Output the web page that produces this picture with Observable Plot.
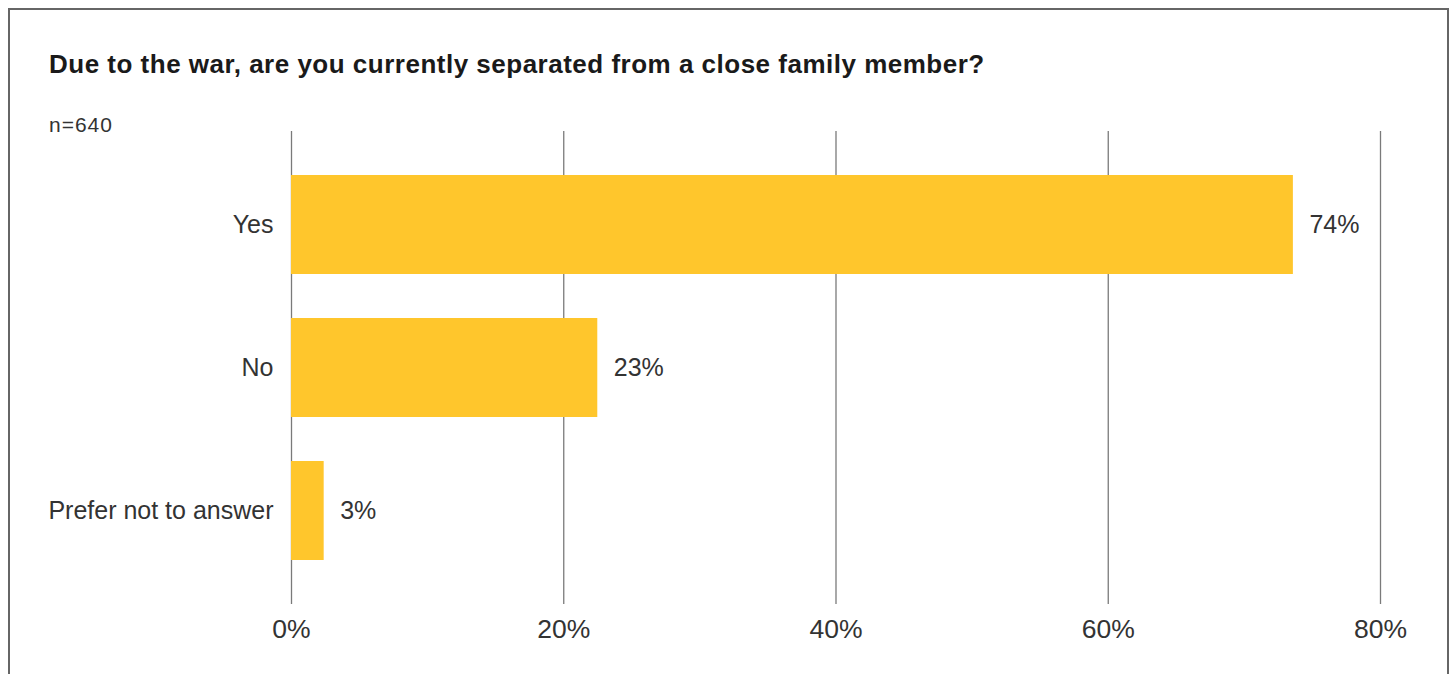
<!DOCTYPE html>
<html>
<head>
<meta charset="utf-8">
<script src="https://cdn.jsdelivr.net/npm/d3@7"></script>
<script src="https://cdn.jsdelivr.net/npm/@observablehq/plot@0.6"></script>
<style>
  html, body { margin: 0; padding: 0; background: #fff; }
  #page { position: relative; width: 1454px; height: 674px; overflow: hidden; font-family: "Liberation Sans", Arial, sans-serif; }
  #frame { position: absolute; left: 8px; top: 8px; width: 1441px; height: 720px; border: 2px solid #666; box-sizing: border-box; }
  #title { position: absolute; left: 49px; top: 51px; margin: 0; font-size: 26px; letter-spacing: 0.5px; line-height: 1; font-weight: bold; color: #1a1a1a; white-space: nowrap; }
  #subtitle { position: absolute; left: 49px; top: 114px; margin: 0; font-size: 21px; letter-spacing: 1px; line-height: 1; color: #333; white-space: nowrap; }
  #chart { position: absolute; left: 0; top: 121px; }
</style>
</head>
<body>
<div id="page">
  <div id="frame"></div>
  <h2 id="title">Due to the war, are you currently separated from a close family member?</h2>
  <div id="subtitle">n=640</div>
  <div id="chart"></div>
</div>
<script>
const categories = ["Yes", "No", "Prefer not to answer"];
const values = [73.6, 22.5, 2.4];
const valueLabels = ["74%", "23%", "3%"];
const xTicks = [0, 20, 40, 60, 80];
const xTickLabels = ["0%", "20%", "40%", "60%", "80%"];

const data = categories.map((c, i) => ({category: c, value: values[i], label: valueLabels[i]}));

const chart = Plot.plot({
  width: 1454,
  height: 553,
  marginTop: 10,
  marginBottom: 70,
  marginLeft: 291,
  marginRight: 74,
  style: {fontFamily: "'Liberation Sans', Arial, sans-serif", color: "#333", background: "transparent"},
  x: {domain: [0, 80]},
  y: {domain: categories, paddingInner: 0.31, paddingOuter: 0.3},
  marks: [
    Plot.ruleX(xTicks, {stroke: "#7a7a7a", strokeWidth: 1.3}),
    Plot.barX(data, {x: "value", y: "category", fill: "#FFC62C"}),
    Plot.text(data, {x: "value", y: "category", text: "label", textAnchor: "start", dx: 16, fontSize: 25, fill: "#333"}),
    Plot.axisX({ticks: xTicks, tickFormat: (d, i) => xTickLabels[xTicks.indexOf(d)], tickSize: 0, tickPadding: 15, fontSize: 26.5, label: null, fill: "#333"}),
    Plot.axisY({tickSize: 0, tickPadding: 18, fontSize: 25, label: null, fill: "#333"})
  ]
});
document.getElementById("chart").appendChild(chart);
</script>
</body>
</html>
